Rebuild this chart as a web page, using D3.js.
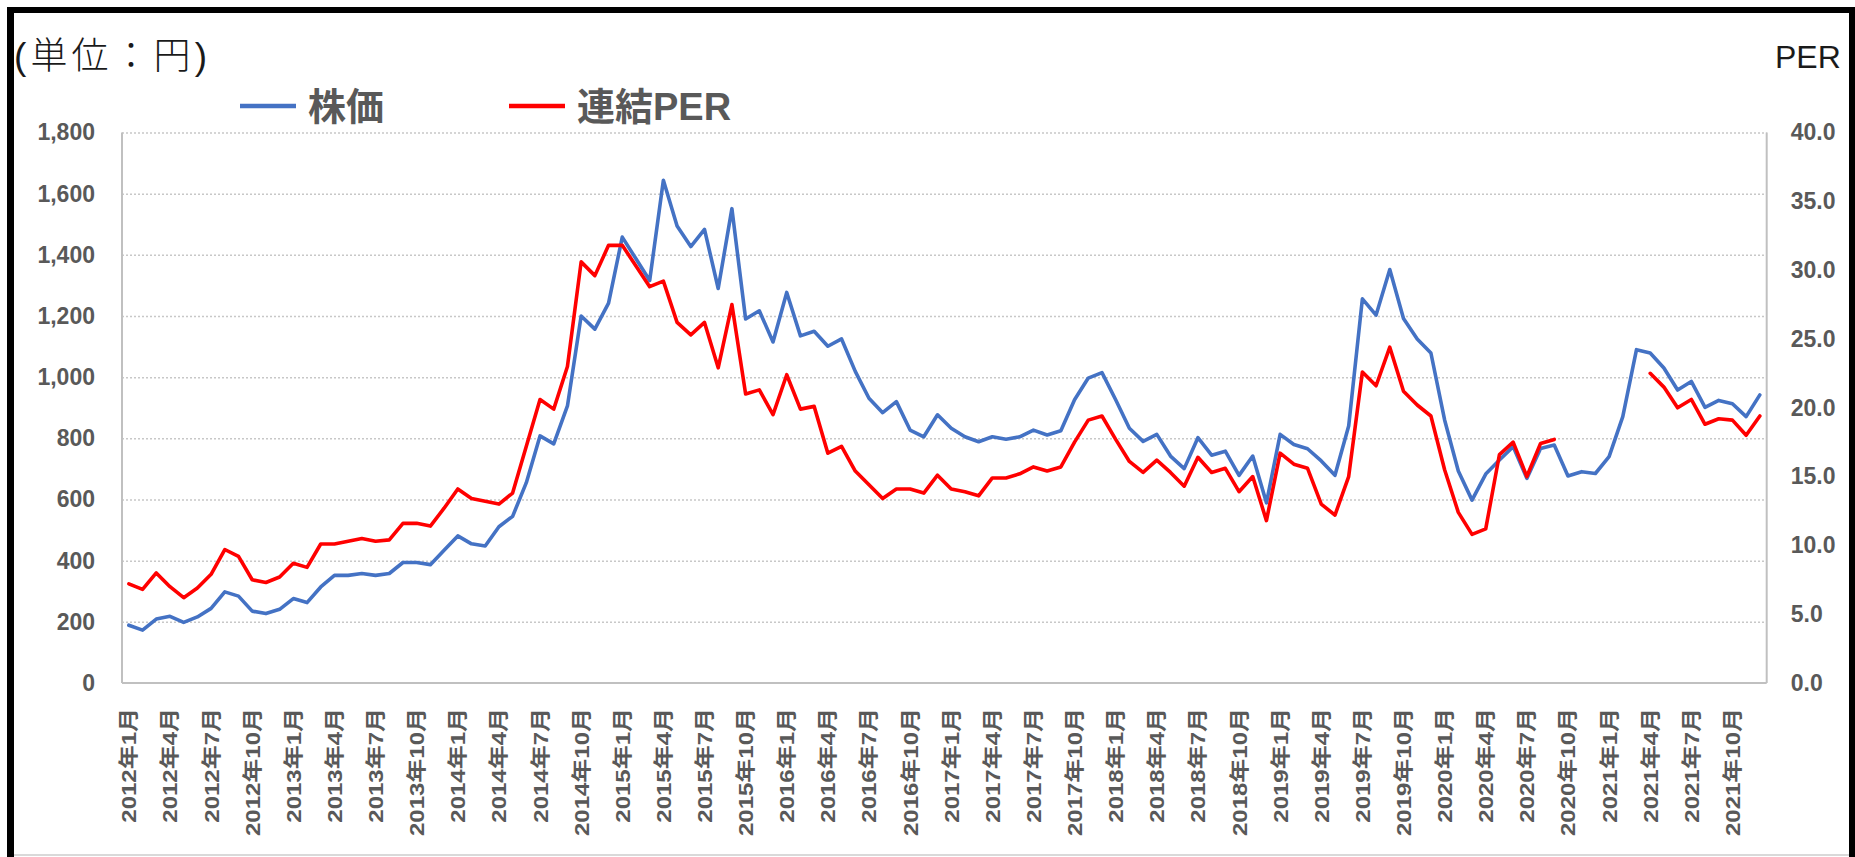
<!DOCTYPE html>
<html><head><meta charset="utf-8">
<script src="https://cdn.jsdelivr.net/npm/d3@7"></script>
<style>
html,body{margin:0;padding:0;background:#fff;}
svg{display:block;}
</style>
</head><body>
<svg id="chart" width="1855" height="857"></svg>
<script>
const categories = [
"2012年1月","2012年2月","2012年3月","2012年4月","2012年5月","2012年6月","2012年7月","2012年8月","2012年9月","2012年10月","2012年11月","2012年12月",
"2013年1月","2013年2月","2013年3月","2013年4月","2013年5月","2013年6月","2013年7月","2013年8月","2013年9月","2013年10月","2013年11月","2013年12月",
"2014年1月","2014年2月","2014年3月","2014年4月","2014年5月","2014年6月","2014年7月","2014年8月","2014年9月","2014年10月","2014年11月","2014年12月",
"2015年1月","2015年2月","2015年3月","2015年4月","2015年5月","2015年6月","2015年7月","2015年8月","2015年9月","2015年10月","2015年11月","2015年12月",
"2016年1月","2016年2月","2016年3月","2016年4月","2016年5月","2016年6月","2016年7月","2016年8月","2016年9月","2016年10月","2016年11月","2016年12月",
"2017年1月","2017年2月","2017年3月","2017年4月","2017年5月","2017年6月","2017年7月","2017年8月","2017年9月","2017年10月","2017年11月","2017年12月",
"2018年1月","2018年2月","2018年3月","2018年4月","2018年5月","2018年6月","2018年7月","2018年8月","2018年9月","2018年10月","2018年11月","2018年12月",
"2019年1月","2019年2月","2019年3月","2019年4月","2019年5月","2019年6月","2019年7月","2019年8月","2019年9月","2019年10月","2019年11月","2019年12月",
"2020年1月","2020年2月","2020年3月","2020年4月","2020年5月","2020年6月","2020年7月","2020年8月","2020年9月","2020年10月","2020年11月","2020年12月",
"2021年1月","2021年2月","2021年3月","2021年4月","2021年5月","2021年6月","2021年7月","2021年8月","2021年9月","2021年10月","2021年11月","2021年12月"
];

const tickLabels = [
"2012年1月","2012年4月","2012年7月","2012年10月","2013年1月","2013年4月","2013年7月","2013年10月",
"2014年1月","2014年4月","2014年7月","2014年10月","2015年1月","2015年4月","2015年7月","2015年10月",
"2016年1月","2016年4月","2016年7月","2016年10月","2017年1月","2017年4月","2017年7月","2017年10月",
"2018年1月","2018年4月","2018年7月","2018年10月","2019年1月","2019年4月","2019年7月","2019年10月",
"2020年1月","2020年4月","2020年7月","2020年10月","2021年1月","2021年4月","2021年7月","2021年10月"
];

// 株価 (円)
const price = [
189,173,209,218,198,216,244,298,284,235,227,241,
276,263,314,352,352,358,352,358,394,394,387,434,
481,455,448,511,545,655,808,782,906,1200,1157,1242,
1458,1387,1316,1644,1494,1427,1483,1290,1551,1190,1217,1115,
1277,1135,1150,1101,1125,1019,931,884,920,827,805,877,
833,805,789,805,797,805,827,811,825,926,997,1015,
926,833,790,813,742,701,802,745,758,679,742,589,
813,780,766,726,679,840,1256,1203,1352,1192,1125,1079,
860,693,598,683,729,773,669,767,778,677,691,685,
740,871,1090,1079,1030,958,986,901,924,913,871,942
];

// 連結PER (倍)
const per = [
7.2,6.8,8.0,7.0,6.2,6.9,7.9,9.7,9.2,7.5,7.3,7.7,
8.7,8.4,10.1,10.1,10.3,10.5,10.3,10.4,11.6,11.6,11.4,12.7,
14.1,13.4,13.2,13.0,13.8,17.2,20.6,19.9,23.0,30.6,29.6,31.8,
31.8,30.3,28.8,29.2,26.2,25.3,26.2,22.9,27.5,21.0,21.3,19.5,
22.4,19.9,20.1,16.7,17.2,15.4,14.4,13.4,14.1,14.1,13.8,15.1,
14.1,13.9,13.6,14.9,14.9,15.2,15.7,15.4,15.7,17.5,19.1,19.4,
17.7,16.1,15.3,16.2,15.3,14.3,16.4,15.3,15.6,13.9,15.0,11.8,
16.7,15.9,15.6,13.0,12.2,15.0,22.6,21.6,24.4,21.2,20.2,19.4,
15.5,12.4,10.8,11.2,16.6,17.5,15.0,17.4,17.7,null,null,null,
null,null,null,22.5,21.5,20.0,20.6,18.8,19.2,19.1,18.0,19.4
];

const priceTicks = [0,200,400,600,800,1000,1200,1400,1600,1800];
const perTicks = [0,5,10,15,20,25,30,35,40];

const svg = d3.select("#chart");
const L = 122, R = 1766.7, T = 132.5, B = 683;
const FONT = "'Liberation Sans','Noto Sans CJK JP',sans-serif";

const x = d3.scalePoint().domain(categories).range([L, R]).padding(0.5);
const yL = d3.scaleLinear().domain([0, 1800]).range([B, T]);
const yR = d3.scaleLinear().domain([0, 40]).range([B, T]);

// outer frame
svg.append("rect").attr("x",0).attr("y",0).attr("width",1855).attr("height",857).attr("fill","#fff");
svg.append("line").attr("x1",7).attr("x2",1855).attr("y1",855).attr("y2",855).attr("stroke","#d9d9d9").attr("stroke-width",2);
svg.append("rect").attr("x",7).attr("y",7).attr("width",7).attr("height",850).attr("fill","#000");
svg.append("rect").attr("x",7).attr("y",7).attr("width",1848).attr("height",6).attr("fill","#000");
svg.append("rect").attr("x",1849).attr("y",7).attr("width",6).attr("height",850).attr("fill","#000");

// gridlines
const grid = svg.append("g").attr("transform", `translate(${L},0)`)
  .call(d3.axisLeft(yL).tickValues(priceTicks.filter(d => d > 0)).tickSize(-(R - L)).tickFormat(""));
grid.select(".domain").remove();
grid.selectAll("line").attr("stroke","#c8c8c8").attr("stroke-width",1.5).attr("stroke-dasharray","2,2");

// plot frame lines
svg.append("line").attr("x1",L).attr("x2",L).attr("y1",T).attr("y2",B).attr("stroke","#c0c0c0").attr("stroke-width",2);
svg.append("line").attr("x1",R).attr("x2",R).attr("y1",T).attr("y2",B).attr("stroke","#c0c0c0").attr("stroke-width",2);
svg.append("line").attr("x1",L).attr("x2",R).attr("y1",B).attr("y2",B).attr("stroke","#c0c0c0").attr("stroke-width",2);

// left axis
const axL = svg.append("g").attr("transform", `translate(${L},0)`)
  .call(d3.axisLeft(yL).tickValues(priceTicks).tickSize(0).tickPadding(27).tickFormat(d3.format(",")));
axL.select(".domain").remove();
axL.selectAll("text").attr("font-family",FONT).attr("font-weight","bold").attr("font-size",23).attr("fill","#595959");

// right axis
const axR = svg.append("g").attr("transform", `translate(${R},0)`)
  .call(d3.axisRight(yR).tickValues(perTicks).tickSize(0).tickPadding(24).tickFormat(d3.format(".1f")));
axR.select(".domain").remove();
axR.selectAll("text").attr("font-family",FONT).attr("font-weight","bold").attr("font-size",23).attr("fill","#595959");

// bottom axis
const axB = svg.append("g").attr("transform", `translate(0,${B})`)
  .call(d3.axisBottom(x).tickValues(tickLabels).tickSize(0));
axB.select(".domain").remove();
axB.selectAll("text")
  .attr("x",0).attr("y",0).attr("dy","0.35em")
  .attr("transform","translate(0,25) rotate(-90) scale(1.2,1)")
  .attr("text-anchor","end")
  .attr("font-family",FONT).attr("font-weight","bold").attr("font-size",20).attr("fill","#595959");

// lines
const linePrice = d3.line().x((d,i) => x(categories[i])).y(d => yL(d));
const linePer = d3.line().defined(d => d !== null).x((d,i) => x(categories[i])).y(d => yR(d));

svg.append("path").datum(price).attr("d", linePrice)
  .attr("fill","none").attr("stroke","#4472C4").attr("stroke-width",3.6)
  .attr("stroke-linejoin","round").attr("stroke-linecap","round");
svg.append("path").datum(per).attr("d", linePer)
  .attr("fill","none").attr("stroke","#FF0000").attr("stroke-width",3.6)
  .attr("stroke-linejoin","round").attr("stroke-linecap","round");

// titles
svg.append("text").attr("x",14).attr("y",69).text("(単位：円)")
  .attr("font-family",FONT).attr("font-size",37).attr("font-weight",300).attr("fill","#1a1a1a")
  .attr("textLength",193).attr("lengthAdjust","spacing");
svg.append("text").attr("x",1775).attr("y",68).text("PER")
  .attr("font-family",FONT).attr("font-size",32).attr("fill","#1a1a1a");

// legend
const legend = [
  {name:"株価", color:"#4472C4", x:240},
  {name:"連結PER", color:"#FF0000", x:509}
];
const lg = svg.append("g").selectAll("g").data(legend).join("g");
lg.append("line").attr("x1",d=>d.x).attr("x2",d=>d.x+56).attr("y1",106).attr("y2",106)
  .attr("stroke",d=>d.color).attr("stroke-width",4.5);
lg.append("text").attr("x",d=>d.x+68).attr("y",120).text(d=>d.name)
  .attr("font-family",FONT).attr("font-weight","bold").attr("font-size",38).attr("fill","#595959");
</script>
</body></html>
